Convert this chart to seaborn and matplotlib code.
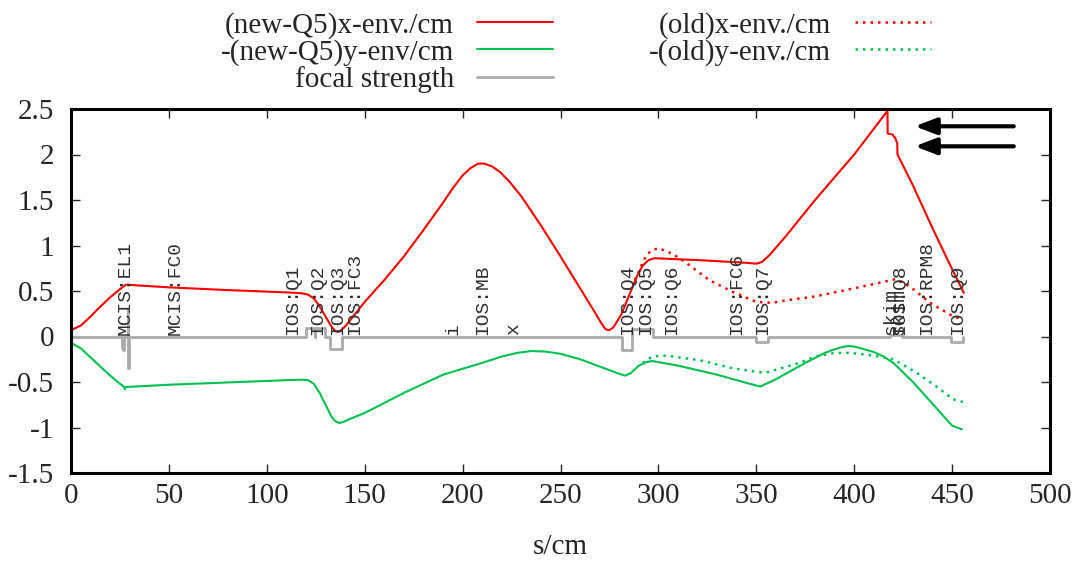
import numpy as np
import pandas as pd
import matplotlib
matplotlib.use("Agg")
import matplotlib.pyplot as plt
import seaborn as sns

# beam envelope, new setting (Q5 changed)
s_x_new = [0, 5, 10, 15, 20, 25, 27.5, 28, 50, 80, 110, 118, 121, 124, 127, 130, 133, 135,
           136.5, 138, 140, 143, 150, 160, 170, 180, 190, 195, 200, 204, 208, 211, 215, 219,
           224, 230, 240, 250, 260, 268, 271, 273, 275, 277, 281, 285, 289, 292, 295, 298,
           320, 345, 350, 353, 357, 365, 380, 400, 417, 417.1, 419.5, 421, 422, 422.1, 430,
           440, 450, 456]
x_new = [0.07, 0.12, 0.22, 0.33, 0.43, 0.52, 0.56, 0.57, 0.54, 0.51, 0.485, 0.475, 0.46,
         0.42, 0.33, 0.22, 0.11, 0.06, 0.05, 0.07, 0.11, 0.19, 0.38, 0.62, 0.88, 1.17, 1.47,
         1.63, 1.77, 1.85, 1.90, 1.90, 1.87, 1.81, 1.70, 1.54, 1.22, 0.88, 0.53, 0.25, 0.14,
         0.08, 0.07, 0.10, 0.24, 0.45, 0.66, 0.78, 0.84, 0.86, 0.84, 0.81, 0.80, 0.82, 0.90,
         1.10, 1.50, 2.00, 2.48, 2.23, 2.22, 2.18, 2.12, 2.00, 1.66, 1.19, 0.74, 0.48]

s_y_new = [0, 5, 10, 15, 20, 25, 27, 27.5, 28, 50, 80, 110, 118, 121, 124, 127, 130, 133,
           135, 137, 139, 142, 150, 170, 190, 210, 220, 228, 235, 242, 250, 260, 270, 280,
           283, 286, 290, 294, 297, 310, 330, 345, 352, 360, 375, 385, 390, 394, 397, 400,
           405, 410, 415, 420, 430, 440, 450, 455]
y_new = [-0.07, -0.13, -0.23, -0.33, -0.43, -0.52, -0.55, -0.58, -0.555, -0.53, -0.505,
         -0.48, -0.475, -0.48, -0.52, -0.62, -0.75, -0.88, -0.93, -0.95, -0.94, -0.91, -0.84,
         -0.62, -0.42, -0.29, -0.22, -0.18, -0.16, -0.165, -0.19, -0.25, -0.33, -0.41, -0.43,
         -0.40, -0.32, -0.28, -0.27, -0.32, -0.42, -0.51, -0.55, -0.47, -0.29, -0.18, -0.14,
         -0.115, -0.105, -0.11, -0.14, -0.17, -0.22, -0.29, -0.50, -0.74, -0.98, -1.02]

# old setting, only where it differs
s_x_old = [288, 292, 294, 297, 300, 305, 311, 326, 338, 350, 358, 366, 380, 400, 415, 421,
           428.5, 438.7, 449, 455.5]
x_old = [0.62, 0.81, 0.90, 0.95, 0.97, 0.93, 0.86, 0.62, 0.49, 0.38, 0.37, 0.40, 0.44,
         0.53, 0.60, 0.63, 0.55, 0.37, 0.24, 0.18]

s_y_old = [292, 297, 304, 321, 338, 354.5, 365.7, 372, 380, 390, 398, 410, 420, 432, 442,
           450.5, 455.5]
y_old = [-0.29, -0.22, -0.21, -0.26, -0.35, -0.40, -0.33, -0.29, -0.22, -0.18, -0.18,
         -0.21, -0.25, -0.40, -0.55, -0.69, -0.72]

# focal strength: element start, length, strength
el_start = [26.0, 26.6, 28.9, 29.2, 120.0, 124.5, 132.5, 281.5, 286.5, 350.0, 418.5, 449.5]
el_len = [0.5, 0.5, 0.3, 0.5, 4.5, 5.2, 6.0, 5.0, 10.5, 6.0, 6.0, 6.0]
el_k = [-0.13, -0.15, 0.30, -0.35, 0.09, 0.09, -0.135, -0.145, 0.085, -0.06, 0.02, -0.055]
s_end = 455.5

# element names along the beamline
lab_s = [27.6, 53, 113, 126, 136, 145, 195, 210, 226, 284.5, 293.6, 307, 340, 353,
         418.5, 423, 423, 437, 453]
lab_txt = ["MCIS:EL1", "MCIS:FC0", "IOS:Q1", "IOS:Q2", "IOS:Q3", "IOS:FC3", "i", "IOS:MB",
           "x", "IOS:Q4", "IOS:Q5", "IOS:Q6", "IOS:FC6", "IOS:Q7", "skim", "skim", "IOS:Q8",
           "IOS:RPM8", "IOS:Q9"]

x_ticks = [0, 50, 100, 150, 200, 250, 300, 350, 400, 450, 500]
y_ticks = [-1.5, -1, -0.5, 0, 0.5, 1, 1.5, 2, 2.5]


def focal_profile():
    s, k = [0.0], [0.0]
    for a, l, v in zip(el_start, el_len, el_k):
        s += [a, a, a + l, a + l]
        k += [0.0, v, v, 0.0]
    s.append(s_end)
    k.append(0.0)
    return pd.DataFrame({"s": s, "k": k})


def main():
    sns.set_style("ticks")
    plt.rcParams["font.family"] = ["Liberation Serif", "DejaVu Serif"]
    plt.rcParams["axes.unicode_minus"] = False

    fig = plt.figure(figsize=(10.82, 5.62), dpi=100)
    ax = fig.add_axes([71 / 1082, 1 - 473 / 562, 979 / 1082, 364 / 562])

    red = "#ff0000"
    green = "#00c050"
    gray = "#aaaaaa"
    dots = (0, (1, 2))

    kw = dict(ax=ax, x="s", y="v", sort=False, estimator=None)
    sns.lineplot(data=pd.DataFrame({"s": s_x_new, "v": x_new}), color=red, lw=1.5,
                 label="(new-Q5)x-env./cm", **kw)
    sns.lineplot(data=pd.DataFrame({"s": s_y_new, "v": y_new}), color=green, lw=1.5,
                 label="-(new-Q5)y-env/cm", **kw)
    fp = focal_profile()
    sns.lineplot(data=fp, x="s", y="k", ax=ax, sort=False, estimator=None, color=gray,
                 lw=2, label="focal strength")
    sns.lineplot(data=pd.DataFrame({"s": s_x_old, "v": x_old}), color=red, lw=1.8,
                 linestyle=dots, label="(old)x-env./cm", **kw)
    sns.lineplot(data=pd.DataFrame({"s": s_y_old, "v": y_old}), color=green, lw=1.8,
                 linestyle=dots, label="-(old)y-env./cm", **kw)

    for s, t in zip(lab_s, lab_txt):
        ax.text(s, 0.015, t, rotation=90, ha="center", va="bottom", fontsize=14,
                family=["Liberation Mono", "DejaVu Sans Mono"], color="#303030")

    for yy in [2.31, 2.09]:
        ax.annotate("", xy=(431, yy), xytext=(481.5, yy),
                    arrowprops=dict(arrowstyle="-|>,head_length=0.65,head_width=0.25",
                                    lw=3, color="black", shrinkA=0, shrinkB=0,
                                    mutation_scale=20))

    ax.set_xlim(0, 500)
    ax.set_ylim(-1.5, 2.5)
    ax.set_xticks(x_ticks)
    ax.set_yticks(y_ticks)
    ax.set_xticklabels([f"{v:g}" for v in x_ticks])
    ax.set_yticklabels([f"{v:g}" for v in y_ticks])
    ax.set_xlabel("s/cm", fontsize=21, labelpad=18)
    ax.set_ylabel("")
    for sp in ax.spines.values():
        sp.set_visible(True)
        sp.set_linewidth(2.2)
        sp.set_color("black")
    ax.tick_params(axis="both", direction="in", length=6.5, width=1, labelsize=21,
                   top=True, right=True)
    ax.tick_params(axis="y", pad=12)
    ax.tick_params(axis="x", pad=7)

    ax.get_legend().remove()
    h, l = ax.get_legend_handles_labels()
    fig.legend(h, l, ncol=2, loc="upper center", bbox_to_anchor=(0.532, 1.01),
               frameon=False, markerfirst=False, fontsize=21, handlelength=2.6,
               handletextpad=0.8, columnspacing=3.3, labelspacing=0.0,
               borderaxespad=0.2)

    fig.savefig("out.png", dpi=100)


if __name__ == "__main__":
    main()
